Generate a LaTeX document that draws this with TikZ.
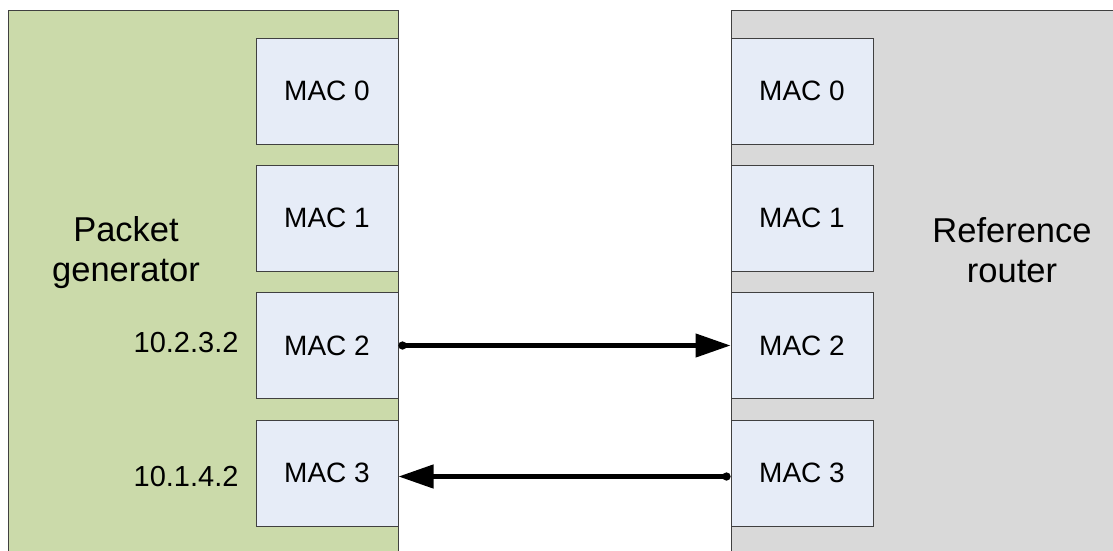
\documentclass[tikz,border=0pt]{standalone}
\usepackage{fontspec}
\setmainfont{Liberation Sans}
\usetikzlibrary{arrows.meta}
\definecolor{gencolor}{RGB}{203,218,170}
\definecolor{refcolor}{RGB}{217,217,217}
\definecolor{maccolor}{RGB}{230,236,247}
\definecolor{edgecolor}{RGB}{64,64,64}
\begin{document}
\begin{tikzpicture}[x=1pt,y=-1pt,
  panel/.style={draw=edgecolor,line width=1pt},
  mac/.style={draw=edgecolor,line width=1pt,fill=maccolor,
    minimum width=142pt,minimum height=106pt,inner sep=0pt,
    font=\fontsize{28}{32}\selectfont},
  title/.style={align=center,font=\fontsize{34.5}{40}\selectfont},
  addr/.style={anchor=base east,font=\fontsize{29}{34}\selectfont},
  link/.style={line width=4.5pt,{Circle[length=8pt]}-{Triangle[length=35pt,width=23pt]}}]
\useasboundingbox (0,0) rectangle (1113,550);
\clip (0,0) rectangle (1113,550);
\fill[white] (0,0) rectangle (1113,550);

% the two devices
\draw[panel,fill=gencolor] (8,10) rectangle (398,570);
\draw[panel,fill=refcolor] (731,10) rectangle (1130,570);

% device names (anchor at the baseline of the second line)
\node[title,anchor=base] (gen) at (126,281) {Packet\\generator};
\node[title,anchor=base] (ref) at (1012,282) {Reference\\router};

% ports of the packet generator
\node[mac] (l0) at (327,91) {MAC 0};
\node[mac] (l1) at (327,218) {MAC 1};
\node[mac] (l2) at (327,345.5) {MAC 2};
\node[mac] (l3) at (327,473) {MAC 3};

% ports of the reference router
\node[mac] (r0) at (802,91) {MAC 0};
\node[mac] (r1) at (802,218) {MAC 1};
\node[mac] (r2) at (802,345.5) {MAC 2};
\node[mac] (r3) at (802,473) {MAC 3};

% addresses
\node[addr] (a2) at (242,352) {10.2.3.2};
\node[addr] (a3) at (242,486.5) {10.1.4.2};

% links
\draw[link] (l2.east) -- (r2.west);
\draw[link] ([yshift=-3.5pt]r3.west) -- ([yshift=-3.5pt]l3.east);
\end{tikzpicture}
\end{document}
